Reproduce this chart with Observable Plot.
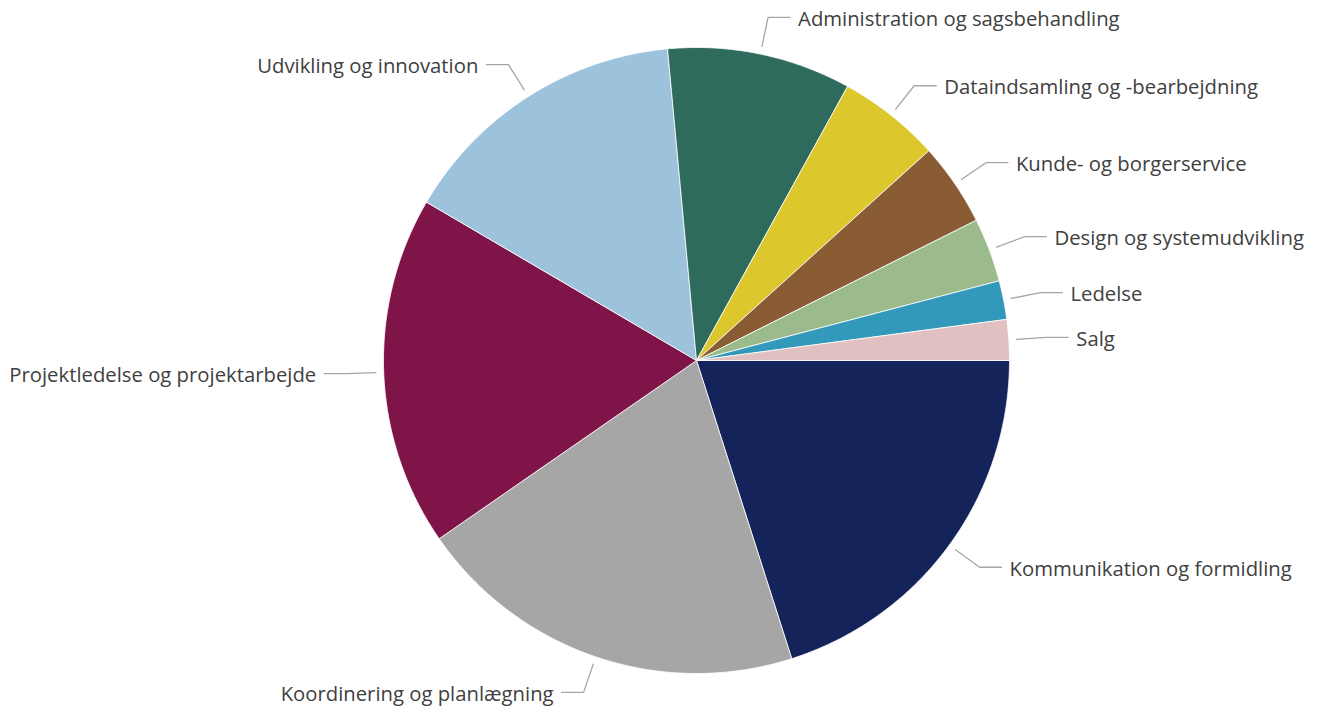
<!DOCTYPE html>
<html><head><meta charset="utf-8">
<script src="https://cdn.jsdelivr.net/npm/d3@7"></script>
<script src="https://cdn.jsdelivr.net/npm/@observablehq/plot@0.6"></script>
<style>html,body{margin:0;padding:0;background:#fff;overflow:hidden} #chart svg{display:block}</style>
</head><body><div id="chart"></div>
<script>
const categories = [
  "Kommunikation og formidling",
  "Koordinering og planlægning",
  "Projektledelse og projektarbejde",
  "Udvikling og innovation",
  "Administration og sagsbehandling",
  "Dataindsamling og -bearbejdning",
  "Kunde- og borgerservice",
  "Design og systemudvikling",
  "Ledelse",
  "Salg"
];
const values = [20.1, 20.3, 18.1, 15.1, 9.5, 5.3, 4.3, 3.3, 2.0, 2.1];
const colors = ["#14235a", "#a6a6a6", "#7f1448", "#9dc3dc", "#2e6b5d", "#dcc72c", "#8a5c33", "#9cbb8c", "#3399bb", "#e0c0c1"];

// layout
const W = 1321, H = 708, CX = 696, CY = 360, R = 313;
const total = d3.sum(values);
const slices = [], leaders = [], labels = [];
let a0 = 0;
categories.forEach((name, i) => {
  const a1 = a0 + values[i] / total * 2 * Math.PI;
  const n = Math.max(2, Math.ceil((a1 - a0) / (Math.PI / 360)));
  slices.push({name, x: 0, y: 0});
  for (let k = 0; k <= n; k++) {
    const a = a0 + (a1 - a0) * k / n;
    slices.push({name, x: Math.cos(a), y: Math.sin(a)});
  }
  slices.push({name, x: 0, y: 0});
  const m = (a0 + a1) / 2, c = Math.cos(m), s = Math.sin(m), dir = c >= 0 ? 1 : -1;
  const ex = 1.12 * c, ey = 1.12 * s;
  leaders.push({name, x: 1.025 * c, y: 1.025 * s}, {name, x: ex, y: ey}, {name, x: ex + dir * 22 / R, y: ey});
  labels.push({name, x: ex + dir * 30 / R, y: ey, side: dir});
  a0 = a1;
});

const textOpts = {x: "x", y: "y", text: "name", fontSize: 20.3, fill: "#404040", dy: 2};
const chart = Plot.plot({
  width: W, height: H, margin: 0,
  x: {domain: [-CX / R, (W - CX) / R], axis: null},
  y: {domain: [(H - CY) / R, -CY / R], axis: null},
  color: {domain: categories, range: colors},
  style: {fontFamily: "'Open Sans', sans-serif", background: "#fff"},
  marks: [
    Plot.line(slices, {x: "x", y: "y", z: "name", fill: "name", stroke: "white", strokeWidth: 0.8, strokeLinejoin: "round"}),
    Plot.line(leaders, {x: "x", y: "y", z: "name", stroke: "#a6a6a6", strokeWidth: 1.3, strokeLinejoin: "round"}),
    Plot.text(labels.filter(d => d.side > 0), {...textOpts, textAnchor: "start"}),
    Plot.text(labels.filter(d => d.side < 0), {...textOpts, textAnchor: "end"})
  ]
});
document.getElementById("chart").append(chart);
</script>
</body></html>
